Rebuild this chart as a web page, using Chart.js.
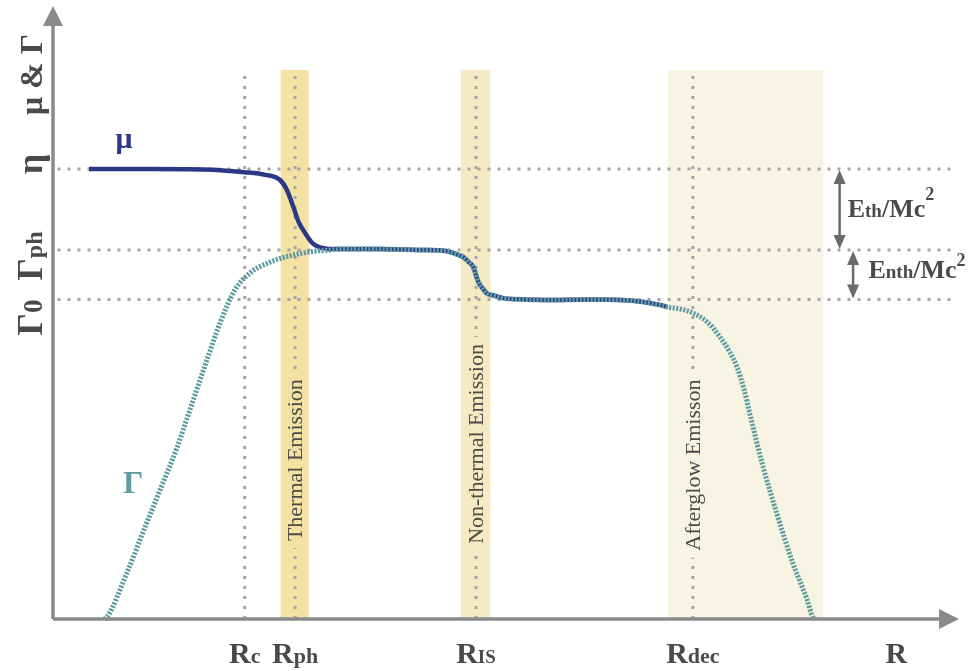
<!DOCTYPE html>
<html>
<head>
<meta charset="utf-8">
<script src="https://cdn.jsdelivr.net/npm/chart.js@4.4.1/dist/chart.umd.min.js"></script>
<style>
  html, body { margin: 0; padding: 0; background: #fff; }
  #wrap { width: 975px; height: 671px; position: relative; }
</style>
</head>
<body>
<div id="wrap"><canvas id="diagram"></canvas></div>
<script>
// schematic units: R runs 0..100, Lorentz factor 0..135
const markerSubs = ["c", "ph", "IS", "dec"];
const markerR = [21.3, 26.9, 47.0, 71.1];

const levelNames = ["η", "Γph", "Γ0"];
const levelValues = [100, 82, 71];

const bandNames = ["Thermal Emission", "Non-thermal Emission", "Afterglow Emisson"];
const bandStart = [25.3, 45.3, 68.3];
const bandEnd = [28.4, 48.6, 85.6];
const bandTop = 122;

const muR = [4.0, 10.8, 16.7, 21.3, 23.6, 25.2, 26.0, 26.7, 27.3, 28.0, 28.7, 29.3, 30.4, 31.6, 36.3, 40.8, 43.6, 44.8, 45.6, 46.2, 46.7, 47.0, 47.3, 47.8, 48.2, 49.1, 50.0, 52.4, 55.6, 59.7, 63.0, 65.8, 67.4, 68.3];
const muVal = [100, 100, 99.9, 99.3, 98.7, 97.6, 95.3, 91.6, 88.2, 85.8, 83.8, 82.9, 82.3, 82.2, 82.2, 82.0, 81.8, 81.1, 80.4, 79.3, 78.2, 76.4, 74.7, 73.3, 72.4, 71.8, 71.3, 71.0, 70.9, 71.0, 70.9, 70.4, 69.8, 69.3];

const gammaR = [5.7, 6.0, 8.2, 10.4, 11.9, 13.8, 15.2, 16.9, 18.6, 20.2, 21.9, 24.1, 26.3, 28.6, 30.8, 31.6, 36.3, 40.8, 43.6, 44.8, 45.6, 46.2, 46.7, 47.0, 47.3, 47.8, 48.2, 49.1, 50.0, 52.4, 55.6, 59.7, 63.0, 65.8, 67.4, 68.3, 69.7, 71.1, 72.7, 74.1, 75.2, 76.0, 76.8, 77.4, 78.9, 80.4, 82.2, 83.8, 84.4, 84.7];
const gammaVal = [0, 0.4, 10.2, 21.3, 28.7, 38.2, 46.4, 56.4, 66.0, 73.1, 76.9, 79.3, 80.7, 81.6, 82.0, 82.2, 82.2, 82.0, 81.8, 81.1, 80.4, 79.3, 78.2, 76.4, 74.7, 73.3, 72.4, 71.8, 71.3, 71.0, 70.9, 71.0, 70.9, 70.4, 69.8, 69.3, 68.9, 68.0, 66.0, 62.7, 59.3, 56.0, 50.9, 45.8, 33.8, 23.6, 12.4, 4.2, 0.4, 0];

// styles
const bandColors = ["#f3e2a2", "#f5eac3", "#f8f4e4"];
const bandLabelAt = [35.3, 38.9, 34.2];
const FONT = '"Liberation Serif", "DejaVu Serif", serif';
const TEXT = "#4a4a4a";
const AXIS = "#8a8a8a";
const DOTS = "#a5a5a5";
const MU_COLOR = "#2c3786";
const GAMMA_COLOR = "#5f9da3";

const pts = (xs, ys) => xs.map((x, i) => ({ x: x, y: ys[i] }));

// parts: [text, size, rise]
function richText(ctx, parts, x, y, align, weight) {
  const w = weight || "normal";
  let total = 0;
  parts.forEach(p => {
    ctx.font = w + " " + p[1] + "px " + FONT;
    total += ctx.measureText(p[0]).width;
  });
  let cx = align === "center" ? x - total / 2 : x;
  ctx.textAlign = "left";
  ctx.textBaseline = "alphabetic";
  parts.forEach(p => {
    ctx.font = w + " " + p[1] + "px " + FONT;
    ctx.fillText(p[0], cx, y - (p[2] || 0));
    cx += ctx.measureText(p[0]).width;
  });
  return total;
}

function arrowHead(ctx, x, y, dx, dy, len, half) {
  ctx.beginPath();
  ctx.moveTo(x, y);
  ctx.lineTo(x - dx * len - dy * half, y - dy * len + dx * half);
  ctx.lineTo(x - dx * len + dy * half, y - dy * len - dx * half);
  ctx.closePath();
  ctx.fill();
}

const schematic = {
  id: "schematic",
  beforeDatasetsDraw(chart) {
    const { ctx, scales: { x, y } } = chart;
    ctx.save();
    bandStart.forEach((s, i) => {
      const x0 = x.getPixelForValue(s), x1 = x.getPixelForValue(bandEnd[i]);
      const top = y.getPixelForValue(bandTop), bot = y.getPixelForValue(0);
      ctx.fillStyle = bandColors[i];
      ctx.fillRect(x0, top, x1 - x0, bot - top);
    });
    ctx.restore();
  },
  afterDatasetsDraw(chart) {
    const { ctx, scales: { x, y } } = chart;
    ctx.save();

    // band labels sit on their dotted marker line
    bandNames.forEach((name, i) => {
      const lx = x.getPixelForValue(markerR[i + 1]);
      const ly = y.getPixelForValue(bandLabelAt[i]);
      ctx.font = "22px " + FONT;
      const w = ctx.measureText(name).width;
      ctx.fillStyle = bandColors[i];
      ctx.fillRect(lx - 7, ly - w / 2 - 7, 14, w + 14);
      ctx.save();
      ctx.translate(lx + 7, ly);
      ctx.rotate(-Math.PI / 2);
      ctx.fillStyle = TEXT;
      richText(ctx, [[name, 22]], 0, 0, "center");
      ctx.restore();
    });

    // axes with arrow heads
    const ox = x.getPixelForValue(0), oy = y.getPixelForValue(0);
    ctx.strokeStyle = AXIS;
    ctx.fillStyle = AXIS;
    ctx.lineWidth = 3.5;
    ctx.beginPath();
    ctx.moveTo(ox, oy);
    ctx.lineTo(945, oy);
    ctx.moveTo(ox, oy);
    ctx.lineTo(ox, 20);
    ctx.stroke();
    arrowHead(ctx, 959, oy, 1, 0, 20, 10);
    arrowHead(ctx, ox, 6, 0, -1, 20, 10);

    // vertical axis labels
    ctx.fillStyle = TEXT;
    const yLabels = [
      [[["μ & Γ", 32]], y.getPixelForValue(121)],
      [[["η", 36]], y.getPixelForValue(levelValues[0]) - 5],
      [[["Γ", 35], ["ph", 24]], y.getPixelForValue(levelValues[1]) + 6],
      [[["Γ", 35], ["0", 27]], y.getPixelForValue(levelValues[2]) + 18]
    ];
    yLabels.forEach(l => {
      ctx.save();
      ctx.translate(42, l[1]);
      ctx.rotate(-Math.PI / 2);
      richText(ctx, l[0], 0, 0, "center", "bold");
      ctx.restore();
    });

    // horizontal axis labels
    const base = oy + 44;
    const subSizes = [22, 22, 19, 22];
    markerSubs.forEach((s, i) => {
      richText(ctx, [["R", 30], [s, subSizes[i]]], x.getPixelForValue(markerR[i]), base, "center", "bold");
    });
    richText(ctx, [["R", 30]], x.getPixelForValue(93.7), base, "center", "bold");

    // energy arrows on the right
    ctx.strokeStyle = "#6a6a6a";
    ctx.fillStyle = "#6a6a6a";
    ctx.lineWidth = 2.5;
    const arrows = [[87.4, levelValues[0], levelValues[1]], [88.9, levelValues[1], levelValues[2]]];
    arrows.forEach(a => {
      const ax = x.getPixelForValue(a[0]);
      const y0 = y.getPixelForValue(a[1]) + 1, y1 = y.getPixelForValue(a[2]) - 1;
      ctx.beginPath();
      ctx.moveTo(ax, y0 + 10);
      ctx.lineTo(ax, y1 - 10);
      ctx.stroke();
      arrowHead(ctx, ax, y0, 0, -1, 14, 6);
      arrowHead(ctx, ax, y1, 0, 1, 14, 6);
    });
    ctx.fillStyle = TEXT;
    richText(ctx, [["E", 26], ["th", 19], ["/Mc", 26], ["2", 18, 17]], x.getPixelForValue(88.3), y.getPixelForValue(89.3), "left", "bold");
    richText(ctx, [["E", 26], ["nth", 19], ["/Mc", 26], ["2", 18, 12]], x.getPixelForValue(90.6), y.getPixelForValue(75.8), "left", "bold");

    // curve names
    ctx.fillStyle = MU_COLOR;
    richText(ctx, [["μ", 30]], x.getPixelForValue(7.9), y.getPixelForValue(104.7), "center", "bold");
    ctx.fillStyle = GAMMA_COLOR;
    richText(ctx, [["Γ", 32]], x.getPixelForValue(8.9), y.getPixelForValue(28), "center", "bold");

    ctx.restore();
  }
};

const dotted = { borderColor: DOTS, borderWidth: 3, borderDash: [3, 7], pointRadius: 0, showLine: true, fill: false };
const markerLines = markerR.map(r => Object.assign({ data: [{ x: r, y: 0 }, { x: r, y: bandTop - 0.5 }] }, dotted));
const levelLines = levelValues.map(v => Object.assign({ data: [{ x: 0.5, y: v }, { x: 100, y: v }] }, dotted));

new Chart(document.getElementById("diagram"), {
  type: "scatter",
  data: {
    datasets: [
      {
        label: "Γ",
        data: pts(gammaR, gammaVal),
        borderColor: GAMMA_COLOR,
        borderWidth: 5,
        borderDash: [2.2, 1.4],
        showLine: true,
        pointRadius: 0,
        cubicInterpolationMode: "monotone",
        clip: false
      },
      {
        label: "μ",
        data: pts(muR, muVal),
        borderColor: MU_COLOR,
        borderWidth: 4.5,
        showLine: true,
        pointRadius: 0,
        cubicInterpolationMode: "monotone",
        clip: false
      },
      ...markerLines,
      ...levelLines
    ]
  },
  options: {
    responsive: true,
    maintainAspectRatio: false,
    animation: false,
    layout: { padding: { left: 53, right: 22, top: 11.5, bottom: 52 } },
    scales: {
      x: { type: "linear", min: 0, max: 100, display: false },
      y: { type: "linear", min: 0, max: 135, display: false }
    },
    plugins: { legend: { display: false }, tooltip: { enabled: false } },
    events: []
  },
  plugins: [schematic]
});
</script>
</body>
</html>
